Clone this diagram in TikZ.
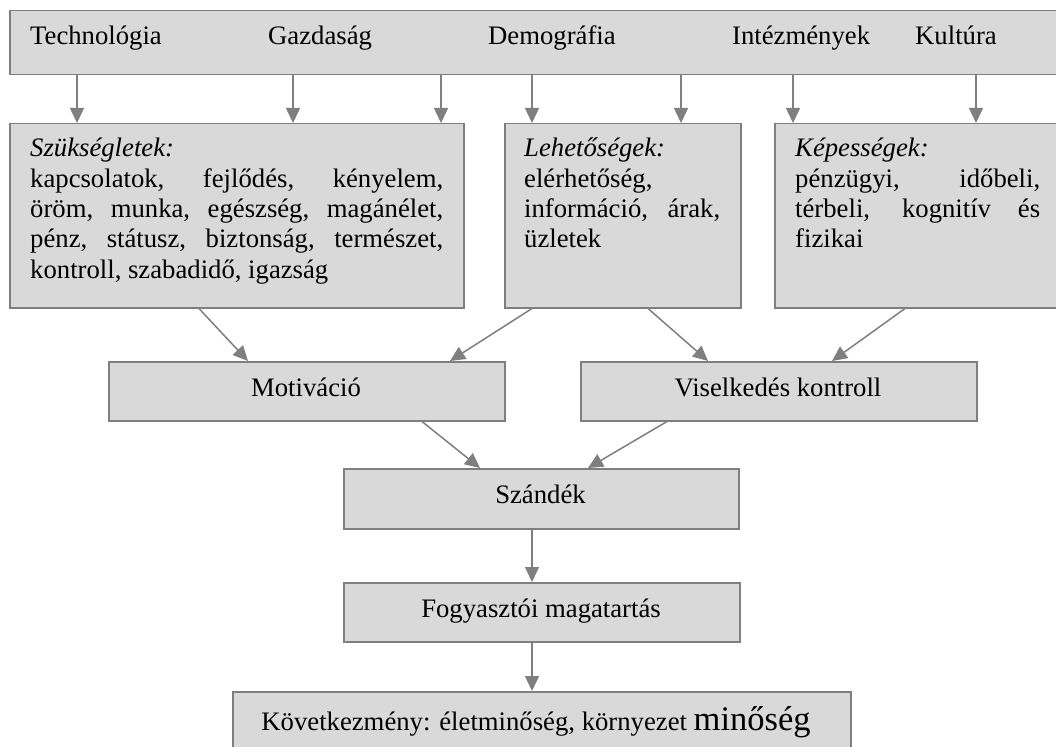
\documentclass[tikz,border=0pt]{standalone}
\usepackage{fontspec}
\setmainfont{Liberation Serif}
\usetikzlibrary{arrows.meta}
\definecolor{boxfill}{HTML}{D9D9D9}
\definecolor{edgegray}{HTML}{7F7F7F}
\tikzset{
  basefont/.style={font=\fontsize{26.7}{30.3}\selectfont},
  box/.style={draw=edgegray, fill=boxfill, line width=1.5pt, inner sep=0pt, anchor=north west},
  lbl/.style={inner sep=0pt, anchor=base west},
  par/.style={inner sep=0pt, anchor=base west, align=justify},
  ctr/.style={inner sep=0pt, anchor=base},
  arr/.style={draw=edgegray, line width=1.5pt, -{Triangle[width=14pt,length=15pt]}},
}
\begin{document}
\begin{tikzpicture}[x=1pt,y=-1pt,basefont]
\useasboundingbox (0,0) rectangle (1056,746);
\clip (0,0) rectangle (1056,746);

% boxes
\node[box, minimum width=1057pt, minimum height=64pt] (top) at (9,10) {};
\node[box, minimum width=454pt, minimum height=184pt] (szuk) at (9,123) {};
\node[box, minimum width=236pt, minimum height=184pt] (leh) at (504,123) {};
\node[box, minimum width=292pt, minimum height=184pt] (kep) at (774,123) {};
\node[box, minimum width=396pt, minimum height=59pt] (mot) at (108,361) {};
\node[box, minimum width=396pt, minimum height=59pt] (vis) at (580,361) {};
\node[box, minimum width=395pt, minimum height=60pt] (sza) at (343,468) {};
\node[box, minimum width=396pt, minimum height=59pt] (fog) at (343,582) {};
\node[box, minimum width=618pt, minimum height=80pt] (kov) at (232,691) {};

% top texts
\node[lbl] (tech) at (30,45) {Technológia};
\node[lbl] (gazd) at (268,45) {Gazdaság};
\node[lbl] (demo) at (488,45) {Demográfia};
\node[lbl] (inte) at (732,45) {Intézmények};
\node[lbl] (kult) at (915,45) {Kultúra};

% paragraph texts
\node[par, text width=413pt] (szukt) at (30,157)
  {\textit{Szükségletek:}\\ kapcsolatok, fejlődés, kényelem,\linebreak
   öröm, munka, egészség, magánélet,\linebreak
   pénz, státusz, biztonság, természet,\linebreak
   kontroll, szabadidő, igazság};
\node[par, text width=196pt] (leht) at (524,157)
  {\textit{Lehetőségek:}\\ elérhetőség,\linebreak
   információ, árak,\linebreak üzletek};
\node[par, text width=245pt] (kept) at (795,157)
  {\textit{Képességek:}\\ pénzügyi, időbeli,\linebreak
   térbeli, kognitív és\linebreak fizikai};

% centred texts
\node[ctr] (mott) at (306,396) {Motiváció};
\node[ctr] (vist) at (778,396) {Viselkedés kontroll};
\node[ctr] (szat) at (540.5,503) {Szándék};
\node[ctr] (fogt) at (541,617) {Fogyasztói magatartás};
\node[ctr] (kovt) at (536,730) {Következmény: életminőség, környezet {\fontsize{34.5}{40}\selectfont minőség}};

% arrows from top box
\draw[arr] ([xshift=68pt]top.south west) -- ([xshift=68pt]szuk.north west);
\draw[arr] ([xshift=284pt]top.south west) -- ([xshift=284pt]szuk.north west);
\draw[arr] ([xshift=432pt]top.south west) -- ([xshift=432pt]szuk.north west);
\draw[arr] ([xshift=523pt]top.south west) -- ([xshift=28pt]leh.north west);
\draw[arr] ([xshift=672pt]top.south west) -- ([xshift=177pt]leh.north west);
\draw[arr] ([xshift=784pt]top.south west) -- ([xshift=19pt]kep.north west);
\draw[arr] ([xshift=967pt]top.south west) -- ([xshift=202pt]kep.north west);

% middle arrows
\draw[arr] ([xshift=190pt]szuk.south west) -- ([xshift=140pt]mot.north west);
\draw[arr] ([xshift=28pt]leh.south west) -- ([xshift=342pt]mot.north west);
\draw[arr] ([xshift=144pt]leh.south west) -- ([xshift=128pt]vis.north west);
\draw[arr] ([xshift=131pt]kep.south west) -- ([xshift=252pt]vis.north west);
\draw[arr] ([xshift=314pt]mot.south west) -- ([xshift=137pt]sza.north west);
\draw[arr] ([xshift=87pt]vis.south west) -- ([xshift=245pt]sza.north west);
\draw[arr] ([xshift=189pt]sza.south west) -- ([xshift=189pt]fog.north west);
\draw[arr] ([xshift=189pt]fog.south west) -- ([xshift=300pt]kov.north west);
\end{tikzpicture}
\end{document}
